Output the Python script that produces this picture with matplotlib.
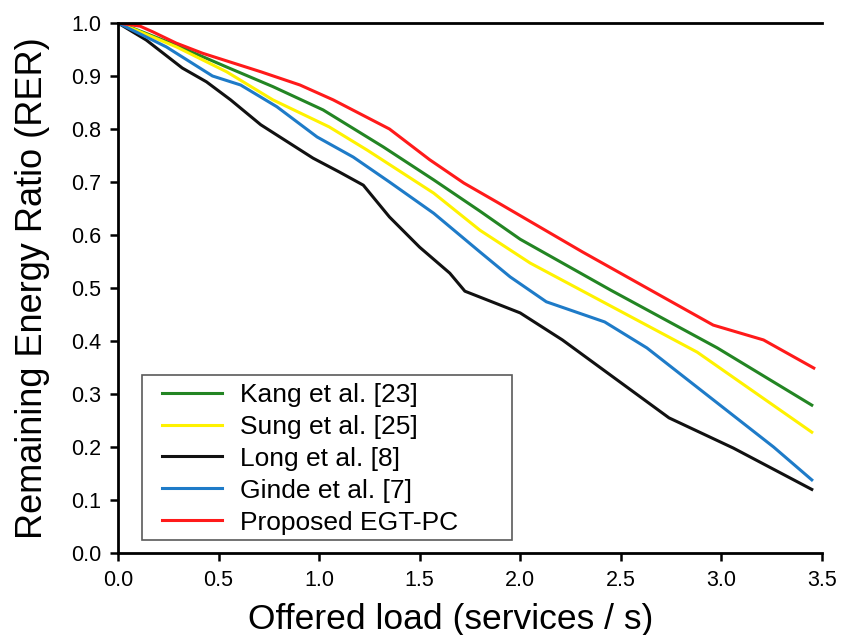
import matplotlib
matplotlib.use("Agg")
import matplotlib.pyplot as plt
from matplotlib.patches import Rectangle
import numpy as np

plt.rcParams["font.family"] = ["Liberation Sans", "DejaVu Sans"]

# values
kang_x = [0.0, 0.075, 0.29, 0.54, 0.77, 1.02, 1.32, 1.57, 1.80, 2.0, 2.45, 2.98, 3.45]
kang_y = [1.0, 0.99, 0.958, 0.917, 0.88, 0.836, 0.766, 0.704, 0.645, 0.592, 0.496, 0.387, 0.279]

sung_x = [0.0, 0.1, 0.29, 0.54, 0.77, 1.05, 1.24, 1.57, 1.80, 2.05, 2.88, 3.45]
sung_y = [1.0, 0.985, 0.955, 0.908, 0.855, 0.804, 0.760, 0.679, 0.609, 0.547, 0.379, 0.228]

long_x = [0.0, 0.14, 0.32, 0.44, 0.56, 0.71, 0.97, 1.10, 1.22, 1.35, 1.50, 1.65, 1.725,
          2.0, 2.21, 2.74, 3.06, 3.45]
long_y = [1.0, 0.968, 0.915, 0.889, 0.855, 0.808, 0.745, 0.719, 0.694, 0.634, 0.577, 0.528, 0.494,
          0.453, 0.402, 0.255, 0.198, 0.12]

ginde_x = [0.0, 0.24, 0.47, 0.61, 0.79, 0.99, 1.17, 1.35, 1.57, 1.80, 1.95, 2.13, 2.42,
           2.63, 3.26, 3.45]
ginde_y = [1.0, 0.955, 0.90, 0.883, 0.842, 0.785, 0.747, 0.70, 0.641, 0.568, 0.521, 0.474, 0.436,
           0.387, 0.20, 0.138]

prop_x = [0.0, 0.11, 0.175, 0.29, 0.42, 0.71, 0.905, 1.07, 1.35, 1.55, 1.72, 1.885, 2.31,
          2.63, 2.96, 3.21, 3.46]
prop_y = [1.0, 0.994, 0.983, 0.962, 0.943, 0.908, 0.883, 0.855, 0.800, 0.742, 0.698, 0.662, 0.568,
          0.50, 0.43, 0.402, 0.349]

series = [
    ("Kang et al. [23]", kang_x, kang_y, "#238523"),
    ("Sung et al. [25]", sung_x, sung_y, "#FFF200"),
    ("Long et al. [8]", long_x, long_y, "#111111"),
    ("Ginde et al. [7]", ginde_x, ginde_y, "#1E7BC8"),
    ("Proposed EGT-PC", prop_x, prop_y, "#FF1A1A"),
]

fig = plt.figure(figsize=(8.45, 6.35), dpi=100)
ax = fig.add_axes([0.1396, 0.1291, 0.833, 0.8347])

for label, xs, ys, color in series:
    ax.plot(xs, ys, color=color, linewidth=2.2, label=label)

ax.set_xlim(0, 3.5)
ax.set_ylim(0, 1.0)
ax.set_xticks(np.arange(0, 3.51, 0.5))
ax.set_yticks(np.arange(0, 1.01, 0.1))
ax.xaxis.set_major_formatter(matplotlib.ticker.FormatStrFormatter("%.1f"))
ax.yaxis.set_major_formatter(matplotlib.ticker.FormatStrFormatter("%.1f"))
ax.tick_params(direction="out", length=6, width=1.8, labelsize=15.5, colors="black", pad=6)

ax.spines["right"].set_visible(False)
for side in ("left", "bottom", "top"):
    ax.spines[side].set_linewidth(2.0)
    ax.spines[side].set_color("black")

ax.set_xlabel("Offered load (services / s)", fontsize=25.5)
ax.xaxis.label.set_va("baseline")
ax.xaxis.set_label_coords(0.473, -0.143)
ax.set_ylabel("Remaining Energy Ratio (RER)", fontsize=26)
ax.yaxis.set_label_coords(-0.096, 0.5)

# legend frame drawn separately so its size can match the reference
ax.add_patch(Rectangle((0.034, 0.0245), 0.5256, 0.3113, transform=ax.transAxes,
                       fill=False, edgecolor="#5a5a5a", linewidth=1.2, zorder=4))
leg = ax.legend(loc="upper left", bbox_to_anchor=(0.0625, 0.321), fontsize=19,
                frameon=False, borderpad=0, borderaxespad=0,
                handlelength=2.27, handletextpad=0.68, labelspacing=0.3)

fig.savefig("out.png", dpi=100)
